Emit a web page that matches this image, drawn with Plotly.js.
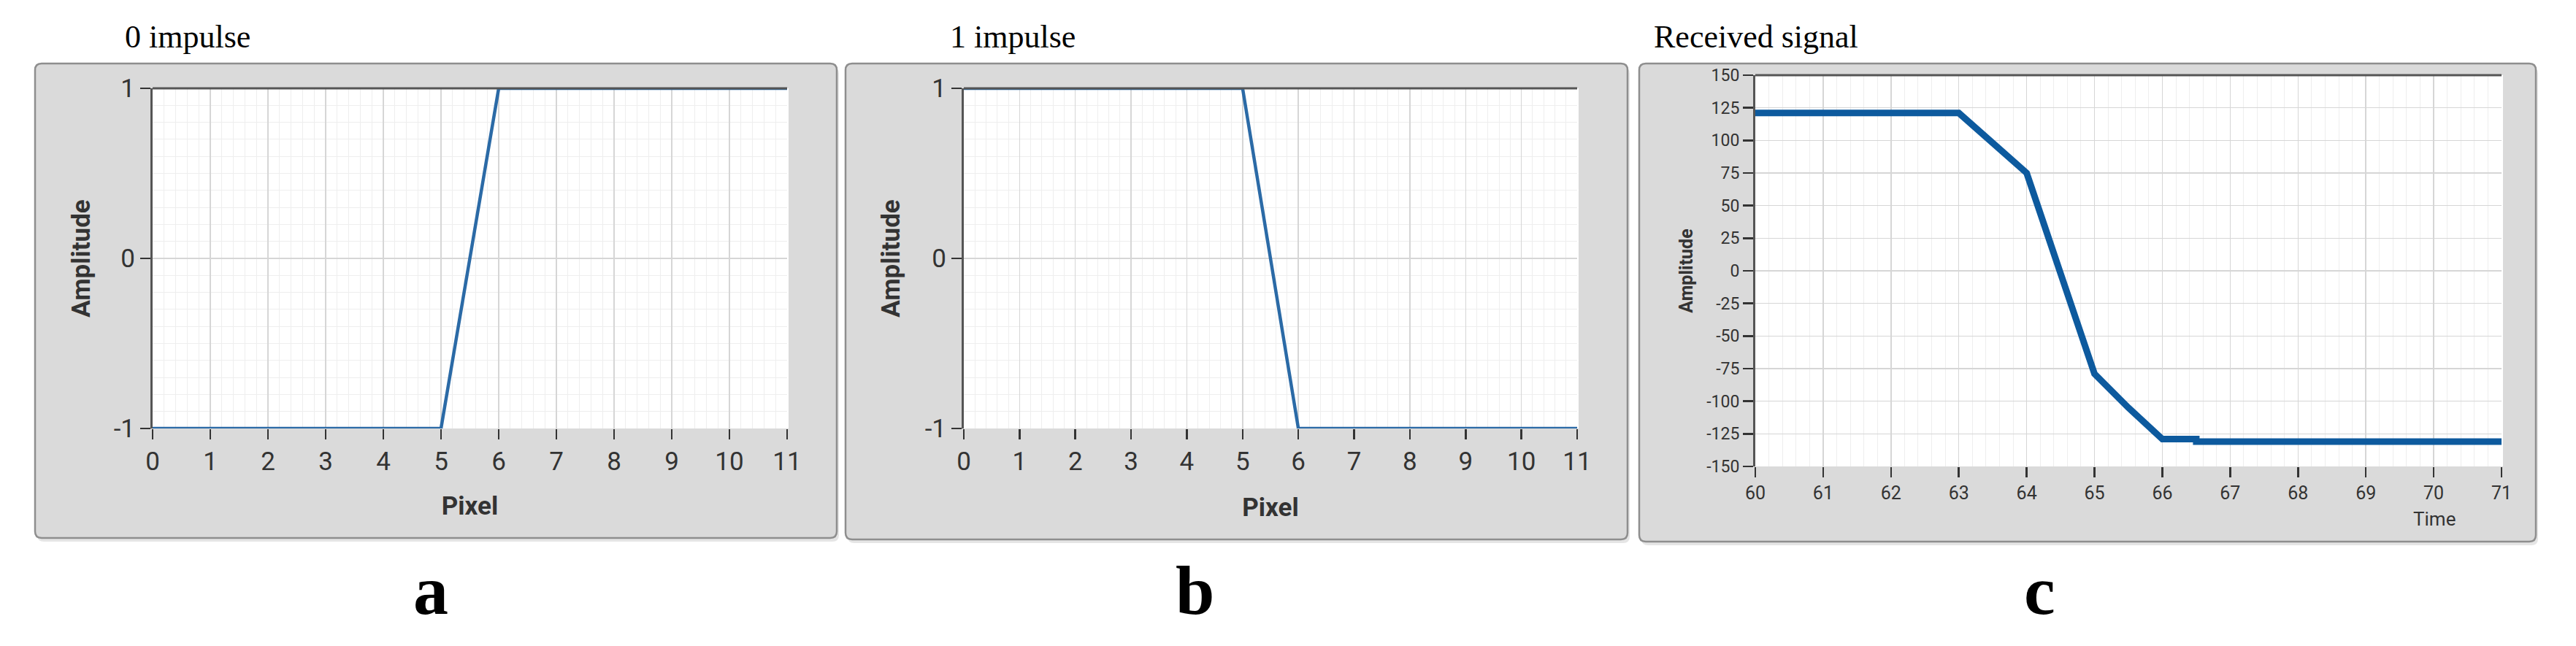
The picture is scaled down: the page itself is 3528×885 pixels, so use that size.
<!DOCTYPE html>
<html>
<head>
<meta charset="utf-8">
<script src="https://cdn.plot.ly/plotly-3.0.1.min.js"></script>
<style>
html,body{margin:0;padding:0;background:#ffffff;}
#chart{width:3528px;height:885px;}
</style>
</head>
<body>
<div id="chart"></div>
<script>
// ---------- data ----------
const pixelA = [0, 1, 2, 3, 4, 5, 6, 7, 8, 9, 10, 11];
const ampA   = [-1, -1, -1, -1, -1, -1, 1, 1, 1, 1, 1, 1];
const pixelB = [0, 1, 2, 3, 4, 5, 6, 7, 8, 9, 10, 11];
const ampB   = [1, 1, 1, 1, 1, 1, -1, -1, -1, -1, -1, -1];
const timeC  = [60, 61, 62, 63, 63.5, 64, 64.5, 65, 65.5, 66, 66.5, 66.5, 67, 68, 69, 70, 71];
const ampC   = [121, 121, 121, 121, 98, 75, -2, -79, -105, -129, -129, -131, -131, -131, -131, -131, -131];
const panelTitles  = ["0 impulse", "1 impulse", "Received signal"];
const panelLetters = ["a", "b", "c"];
const xTitles = ["Pixel", "Pixel", "Time"];
const yTitle = "Amplitude";
const yTickValsAB = [-1, 0, 1];
const yTickTextAB = ["-1", "0", "1"];
const yTickValsC  = [-150, -125, -100, -75, -50, -25, 0, 25, 50, 75, 100, 125, 150];
const yTickTextC  = ["-150", "-125", "-100", "-75", "-50", "-25", "0", "25", "50", "75", "100", "125", "150"];

// ---------- layout helpers ----------
const W = 3528, H = 885;
const px = v => v / W;
const py = v => 1 - v / H;

function roundRect(x0, y0, x1, y1, r) {
  const rx = r / W, ry = r / H;
  const X0 = px(x0), X1 = px(x1), Y0 = py(y0), Y1 = py(y1);
  return `M${X0 + rx},${Y0} L${X1 - rx},${Y0} Q${X1},${Y0} ${X1},${Y0 - ry} ` +
         `L${X1},${Y1 + ry} Q${X1},${Y1} ${X1 - rx},${Y1} L${X0 + rx},${Y1} ` +
         `Q${X0},${Y1} ${X0},${Y1 + ry} L${X0},${Y0 - ry} Q${X0},${Y0} ${X0 + rx},${Y0} Z`;
}

const frames = [
  {x0: 48,   y0: 87, x1: 1146, y1: 737},
  {x0: 1158, y0: 87, x1: 2229, y1: 739},
  {x0: 2245, y0: 87, x1: 3473, y1: 742}
];
const plots = [
  {x0: 209,  x1: 1078, y0: 121, y1: 587},
  {x0: 1320, x1: 2160, y0: 121, y1: 587},
  {x0: 2404, x1: 3426, y0: 103, y1: 639}
];

const shapes = [];
frames.forEach(f => {
  shapes.push({type: 'path', xref: 'paper', yref: 'paper', layer: 'below',
    path: roundRect(f.x0 + 3, f.y0 + 5, f.x1 + 3, f.y1 + 5, 9),
    fillcolor: 'rgba(0,0,0,0.10)', line: {width: 0}});
  shapes.push({type: 'path', xref: 'paper', yref: 'paper', layer: 'below',
    path: roundRect(f.x0, f.y0, f.x1, f.y1, 9),
    fillcolor: '#dadada', line: {color: '#8e8e8e', width: 2.5}});
});
plots.forEach(p => {
  shapes.push({type: 'rect', xref: 'paper', yref: 'paper', layer: 'below',
    x0: px(p.x0), x1: px(p.x1 + 2), y0: py(p.y1), y1: py(p.y0),
    fillcolor: '#ffffff', line: {width: 0}});
});
// top border of each plot area
['x', 'x2', 'x3'].forEach((xa, i) => {
  const ya = ['y', 'y2', 'y3'][i];
  shapes.push({type: 'line', xref: xa + ' domain', yref: ya + ' domain',
    x0: 0, x1: 1, y0: 1, y1: 1, line: {color: '#555555', width: 3}});
});

const tickFontAB = {family: 'Roboto, "Open Sans", sans-serif', size: 35, color: '#333333'};
const tickFontCx = {family: 'Roboto, "Open Sans", sans-serif', size: 25, color: '#333333'};
const tickFontC  = {family: 'Roboto, "Open Sans", sans-serif', size: 23, color: '#333333'};
const titleFontAB = {family: 'Roboto, "Open Sans", sans-serif', size: 35, color: '#333333', weight: 'bold'};
const titleFontC  = {family: 'Roboto, "Open Sans", sans-serif', size: 25, color: '#333333', weight: 'bold'};

function xAxis(i, range, dtick, minorDtick, font, title, tfont, standoff) {
  return {
    domain: [px(plots[i].x0), px(plots[i].x1)],
    range: range, dtick: dtick, tick0: range[0], tickmode: 'linear',
    ticks: 'outside', ticklen: 14, tickwidth: 2.5, tickcolor: '#333333',
    showgrid: true, gridcolor: '#d6d6d6', gridwidth: 1.5,
    minor: {dtick: minorDtick, tick0: range[0], showgrid: true, gridcolor: '#eeeeee', gridwidth: 1},
    showline: false, zeroline: false, fixedrange: true,
    tickfont: font,
    title: title ? {text: title, font: tfont, standoff: standoff} : {text: ''}
  };
}
function yAxis(i, range, tickvals, ticktext, minorDtick, font, tfont, standoff) {
  const a = {
    domain: [py(plots[i].y1), py(plots[i].y0)],
    range: range, tickmode: 'array', tickvals: tickvals, ticktext: ticktext,
    ticks: 'outside', ticklen: 14, tickwidth: 2.5, tickcolor: '#333333',
    showgrid: true, gridcolor: '#d6d6d6', gridwidth: 1.5,
    showline: true, linecolor: '#555555', linewidth: 3,
    zeroline: false, fixedrange: true,
    tickfont: font,
    title: {text: yTitle, font: tfont, standoff: standoff}
  };
  if (minorDtick) a.minor = {dtick: minorDtick, tick0: range[0], showgrid: true, gridcolor: '#eeeeee', gridwidth: 1};
  return a;
}

const traces = [
  {x: pixelA, y: ampA, xaxis: 'x', yaxis: 'y', type: 'scatter', mode: 'lines',
   line: {color: '#2b6aa6', width: 4.5}, hoverinfo: 'skip'},
  {x: pixelB, y: ampB, xaxis: 'x2', yaxis: 'y2', type: 'scatter', mode: 'lines',
   line: {color: '#2b6aa6', width: 4.5}, hoverinfo: 'skip'},
  {x: timeC, y: ampC, xaxis: 'x3', yaxis: 'y3', type: 'scatter', mode: 'lines',
   line: {color: '#0d5a9e', width: 9}, hoverinfo: 'skip'}
];

const serif = '"Liberation Serif", "Times New Roman", "DejaVu Serif", serif';
const annotations = [];
const titleX = [169, 1299, 2263];
panelTitles.forEach((t, i) => annotations.push({
  text: t, xref: 'paper', yref: 'paper', x: px(titleX[i]), y: py(51),
  xanchor: 'left', yanchor: 'middle', showarrow: false,
  font: {family: serif, size: 44, color: '#000000'}
}));
const letterX = [590, 1636, 2793];
panelLetters.forEach((t, i) => annotations.push({
  text: t, xref: 'paper', yref: 'paper', x: px(letterX[i]), y: py(808),
  xanchor: 'center', yanchor: 'middle', showarrow: false,
  font: {family: serif, size: 96, color: '#000000', weight: 'bold'}
}));
annotations.push({
  text: xTitles[2], xref: 'paper', yref: 'paper', x: px(3334), y: py(711),
  xanchor: 'center', yanchor: 'middle', showarrow: false,
  font: {family: 'Roboto, "Open Sans", sans-serif', size: 26, color: '#333333'}
});

const layout = {
  width: W, height: H,
  margin: {l: 0, r: 0, t: 0, b: 0, pad: 0},
  paper_bgcolor: '#ffffff', plot_bgcolor: 'rgba(0,0,0,0)',
  showlegend: false,
  xaxis:  xAxis(0, [0, 11], 1, 0.2, tickFontAB, xTitles[0], titleFontAB, 28),
  yaxis:  yAxis(0, [-1, 1], yTickValsAB, yTickTextAB, 0.1, tickFontAB, titleFontAB, 22),
  xaxis2: xAxis(1, [0, 11], 1, 0.2, tickFontAB, xTitles[1], titleFontAB, 30),
  yaxis2: yAxis(1, [-1, 1], yTickValsAB, yTickTextAB, 0.1, tickFontAB, titleFontAB, 24),
  xaxis3: xAxis(2, [60, 71], 1, 0.2, tickFontCx, '', titleFontC, 10),
  yaxis3: yAxis(2, [-150, 150], yTickValsC, yTickTextC, null, tickFontC, titleFontC, 12),
  shapes: shapes,
  annotations: annotations
};
layout.xaxis.anchor = 'y'; layout.yaxis.anchor = 'x';
layout.xaxis2.anchor = 'y2'; layout.yaxis2.anchor = 'x2';
layout.xaxis3.anchor = 'y3'; layout.yaxis3.anchor = 'x3';

Plotly.newPlot('chart', traces, layout, {displayModeBar: false, staticPlot: true});
</script>
</body>
</html>
